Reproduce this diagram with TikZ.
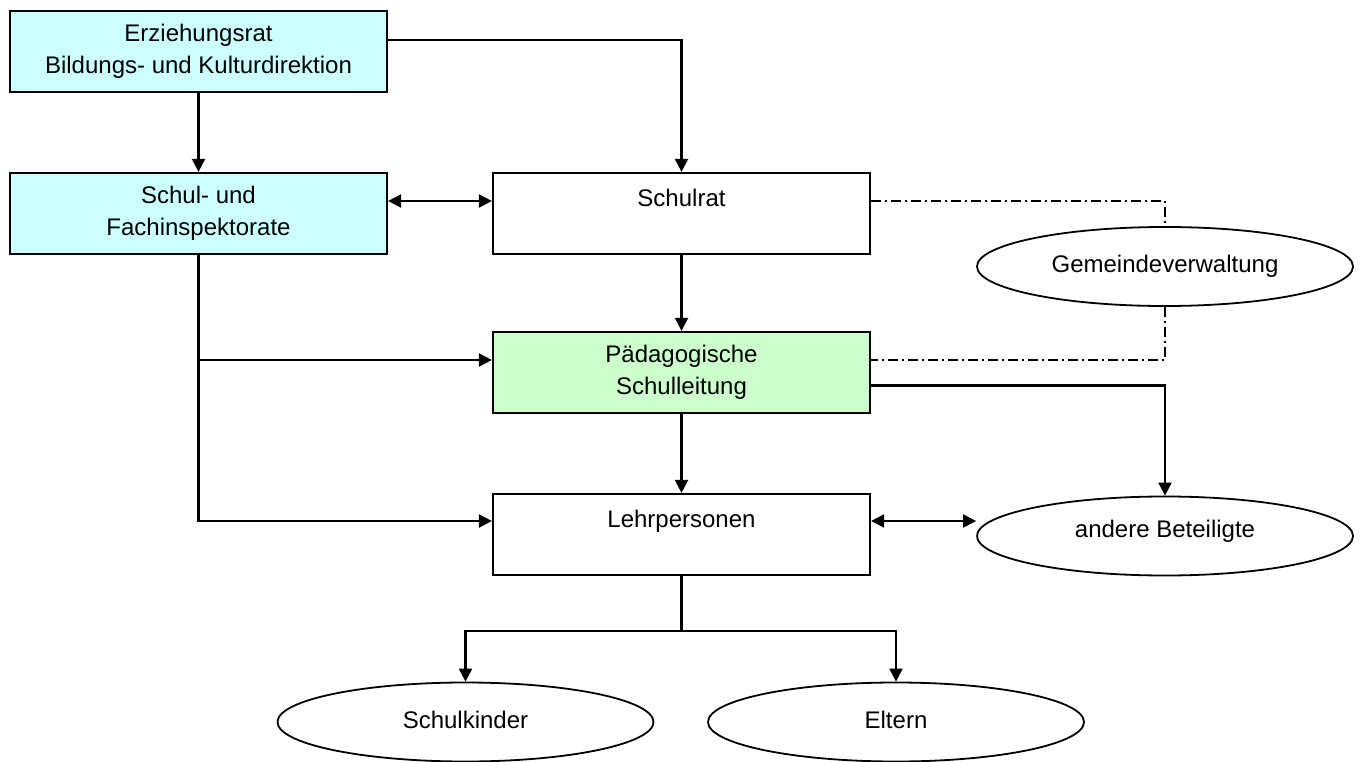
\documentclass[tikz,border=0pt]{standalone}
\usepackage{fontspec}
\setmainfont{Liberation Sans}
\usetikzlibrary{arrows.meta,shapes.geometric,calc}
\definecolor{boxcyan}{RGB}{204,255,255}
\definecolor{boxgreen}{RGB}{204,255,204}
\begin{document}
\begin{tikzpicture}[x=1pt,y=-1pt,
  box/.style={draw, line width=2.2pt, minimum width=377pt, minimum height=81pt, inner sep=0pt, align=center, font=\fontsize{24}{32}\selectfont},
  oval/.style={draw, ellipse, line width=1.8pt, minimum width=376pt, minimum height=79pt, inner sep=0pt, font=\fontsize{24}{32}\selectfont},
  conn/.style={line width=2.2pt, -{Triangle[length=13pt,width=13pt]}},
  dconn/.style={line width=2.2pt, {Triangle[length=13pt,width=13pt]}-{Triangle[length=13pt,width=13pt]}},
  plain/.style={line width=2.2pt},
  dashdot/.style={line width=1.6pt, dash pattern=on 10pt off 4pt on 2pt off 4pt}
]
\useasboundingbox (0,0) rectangle (1360,762);

\node[box, fill=boxcyan] (erz) at (198.5,51.5) {Erziehungsrat\\Bildungs- und Kulturdirektion};
\node[box, fill=boxcyan] (schul) at (198.5,213.5) {Schul- und\\Fachinspektorate};
\node[box, fill=white] (rat) at (681.5,213.5) {Schulrat\\~};
\node[box, fill=boxgreen] (paed) at (681.5,372.5) {Pädagogische\\Schulleitung};
\node[box, fill=white] (lehr) at (681.5,534.5) {Lehrpersonen\\~};

\node[oval] (gv) at (1165,266.5) {\raisebox{6pt}{Gemeindeverwaltung}};
\node[oval] (ab) at (1165,536) {\raisebox{14pt}{andere Beteiligte}};
\node[oval] (sk) at (465.5,722) {\raisebox{5pt}{Schulkinder}};
\node[oval] (el) at (896,722) {\raisebox{5pt}{Eltern}};

% connectors
\draw[conn] (erz) -- (schul);
\draw[conn] ($(erz.east)+(0,-11.5)$) -| (rat);
\coordinate (sr) at ($(schul.east)+(0,-12.5)$);
\draw[dconn] (sr) -- (sr -| rat.west);
\draw[conn] (rat) -- (paed);
\coordinate (pin) at ($(paed.west)+(0,-12.5)$);
\coordinate (lin) at ($(lehr.west)+(0,-13.5)$);
\draw[conn] (schul.south) |- (lin);
\draw[conn] (schul.south |- pin) -- (pin);
\draw[conn] (paed) -- (lehr);
\draw[conn] ($(paed.east)+(0,13)$) -| (ab);
\coordinate (le) at ($(lehr.east)+(0,-13.5)$);
\draw[dconn] (le) -- (le -| ab.west);
\draw[dashdot] ($(rat.east)+(0,-12.5)$) -| (gv.north);
\draw[dashdot] (gv.south) |- ($(paed.east)+(0,-12.5)$);
\draw[plain] (lehr.south) -- ++(0,55) coordinate (j2);
\draw[conn] (j2) -| (sk.north);
\draw[conn] (j2) -| (el.north);
\end{tikzpicture}
\end{document}
